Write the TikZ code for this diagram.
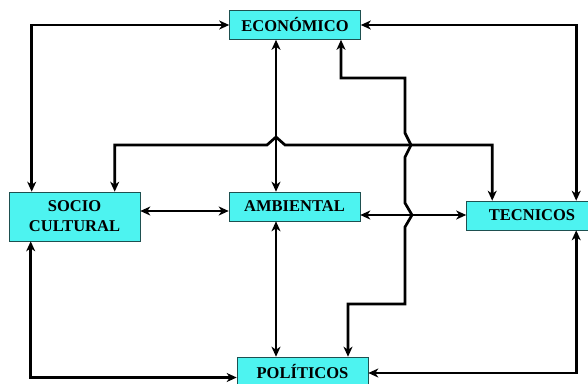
\documentclass[tikz,border=0pt]{standalone}
\usepackage{fontspec}
\setmainfont{Liberation Serif}
\usetikzlibrary{arrows.meta}
\usetikzlibrary{calc}
\definecolor{boxfill}{RGB}{77,243,240}
\definecolor{boxline}{RGB}{30,80,80}
\tikzset{box/.style = {draw=boxline, fill=boxfill, line width=0.6pt,
                       inner sep=0pt, align=center,
                       minimum width=131pt, minimum height=29pt,
                       font=\fontsize{16.5}{20}\selectfont\bfseries},
         link/.style = {<->, >={Stealth[length=10pt,width=9pt,inset=3pt]},
                        line width=2.7pt}}

\begin{document}
\begin{tikzpicture}[x=1pt, y=-1pt]
    \useasboundingbox (0, 0) rectangle (588, 383);
    \node [box] (econ) at (295, 25) {ECONÓMICO};
    \node [box, minimum height=49pt] (socio) at (74.5, 216.5) {SOCIO\\CULTURAL};
    \node [box] (amb) at (294.5, 206.5) {AMBIENTAL};
    \node [box] (tec) at (532, 215.5) {TECNICOS};
    \node [box] (pol) at (302.5, 371.5) {POLÍTICOS};
    % outer loops
    \draw [link] (econ.west) -| ($(socio.north west) + (23, 0)$);
    \draw [link] (econ.east) -| ($(tec.north west) + (110, 0)$);
    \draw [link] ($(socio.south west) + (22, 0)$) |- ($(pol.west) + (0, 6)$);
    \draw [link] ($(tec.south west) + (110, 0)$) |- ($(pol.east) + (0, 1.5)$);
    % middle row
    \draw [link] ($(socio.east) + (0, -5.5)$) -- ($(socio.east -| amb.west) + (0, -5.5)$);
    \draw [link] ($(amb.east) + (0, 8.5)$) -- ($(amb.east -| tec.west) + (0, 8.5)$);
    % centre column
    \draw [link] ($(econ.south) + (-19, 0)$) -- ($(econ.south |- amb.north) + (-19, 0)$);
    \draw [link] ($(amb.south) + (-18.5, 0)$) -- ($(amb.south |- pol.north) + (-18.5, 0)$);
    % crossing lines with jumps
    \draw [link] ($(socio.north west) + (106, 0)$) |- (267, 145) -- (276, 137) -- (285, 145)
        -| ($(tec.north west) + (26, 0)$);
    \draw [link] ($(econ.south) + (46, 0)$) |- (405, 78) -- (405, 133) -- (411, 145) -- (405, 157)
        -- (405, 203) -- (412, 215) -- (405, 227) -- (405, 304) -| ($(pol.north) + (45.5, 0)$);
\end{tikzpicture}
\end{document}
